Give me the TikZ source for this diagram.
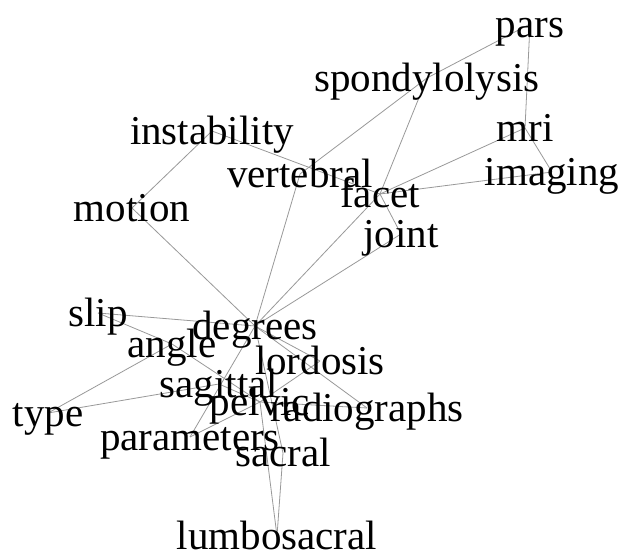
\documentclass[tikz,border=0pt]{standalone}
\usepackage{fontspec}
\setmainfont{Liberation Serif}
\pgfdeclarelayer{bg}
\pgfsetlayers{bg,main}
\begin{document}
\begin{tikzpicture}[x=1pt,y=-1pt,
  word/.style={inner sep=0pt, text height=33pt, text depth=5pt, font=\fontsize{41}{41}\selectfont, text=black},
  link/.style={draw=black!40, line width=0.8pt}]
\useasboundingbox (0,0) rectangle (625,556);
% nodes: center = baseline - 14
\node[word] (pars) at (530,24) {pars};
\node[word] (spondylolysis) at (427,78) {spondylolysis};
\node[word] (mri) at (525,128) {mri};
\node[word] (imaging) at (552,172) {imaging};
\node[word] (instability) at (212,131) {instability};
\node[word] (vertebral) at (300,174) {vertebral};
\node[word] (facet) at (380,194) {facet};
\node[word] (motion) at (132,208) {motion};
\node[word] (joint) at (401,234) {joint};
\node[word] (slip) at (98,313) {slip};
\node[word] (degrees) at (255,326) {degrees};
\node[word] (angle) at (172,344) {angle};
\node[word] (lordosis) at (320,361) {lordosis};
\node[word] (sagittal) at (219,384) {sagittal};
\node[word] (pelvic) at (260,402) {pelvic};
\node[word] (radiographs) at (367,408) {radiographs};
\node[word] (type) at (48,413) {type};
\node[word] (parameters) at (190,437) {parameters};
\node[word] (sacral) at (283,453) {sacral};
\node[word] (lumbosacral) at (277,536) {lumbosacral};
\begin{pgfonlayer}{bg}
\fill[white] (0,0) rectangle (625,556);
\foreach \a/\b in {pars/spondylolysis, pars/mri, spondylolysis/vertebral,
  spondylolysis/facet, instability/facet, instability/motion, facet/mri,
  facet/imaging, mri/imaging, facet/joint, degrees/motion, degrees/vertebral,
  degrees/facet, degrees/joint, degrees/slip, slip/angle, angle/type,
  angle/pelvic, type/sagittal, degrees/lordosis, degrees/radiographs,
  degrees/parameters, lordosis/pelvic, parameters/pelvic, pelvic/radiographs,
  sagittal/pelvic, degrees/sacral, sacral/lumbosacral, pelvic/lumbosacral}
  \draw[link] (\a.center) -- (\b.center);
\end{pgfonlayer}
\end{tikzpicture}
\end{document}
